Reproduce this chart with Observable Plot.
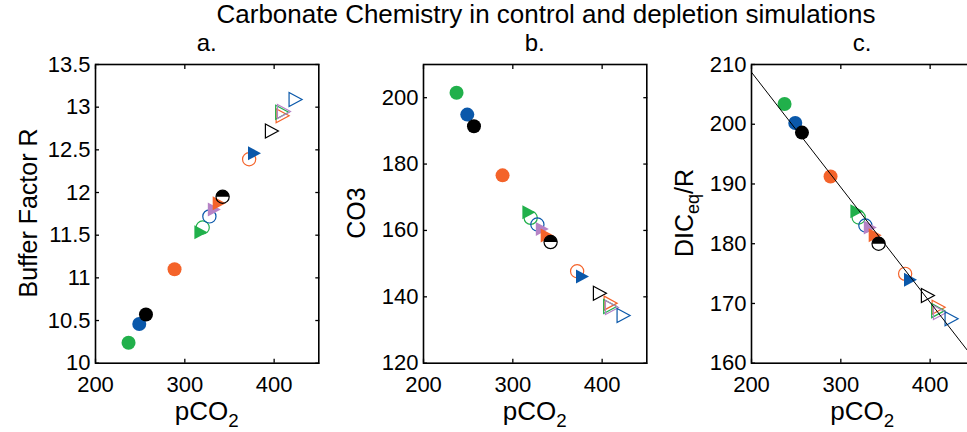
<!DOCTYPE html>
<html><head><meta charset="utf-8">
<script src="https://cdn.jsdelivr.net/npm/d3@7"></script>
<script src="https://cdn.jsdelivr.net/npm/@observablehq/plot@0.6"></script>
<style>
html, body {margin:0; padding:0; overflow:hidden; background:#fff;}
#chart {position:relative; width:967px; height:432px; overflow:hidden; font-family:'Liberation Sans', Arial, Helvetica, sans-serif; color:#000;}
#chart .lbl {position:absolute; white-space:nowrap;}
#chart .panel {position:absolute; top:0;}
.sub {font-size:0.72em; position:relative; top:0.35em;}
</style></head><body><div id="chart"></div>
<script>
// ---- data ----
const experiment = ["g","b","k","o", "g","b","o", "g","p","o","b", "k", "k","o","g","p","b"];
const marker = ["filled circle","filled circle","filled circle","filled circle",
  "open circle","open circle","open circle",
  "filled triangle","filled triangle","filled triangle","filled triangle",
  "half circle",
  "open triangle","open triangle","open triangle","open triangle","open triangle"];
const pco2    = [237, 249, 256.5, 288.5, 320, 327.5, 372, 318, 333, 338.5, 378, 342.3, 397.5, 409.5, 409, 411, 424];
const bufferR = [10.24, 10.46, 10.57, 11.10, 11.59, 11.72, 12.39, 11.535, 11.80, 11.875, 12.46, 11.95, 12.72, 12.90, 12.94, 12.95, 13.09];
const co3     = [201.5, 194.9, 191.4, 176.6, 163.8, 161.8, 147.7, 165.5, 160.4, 158.5, 146.1, 156.5, 141.1, 138.1, 137.1, 136.8, 134.4];
const dicEqR  = [203.4, 200.2, 198.6, 191.25, 184.4, 183.05, 174.96, 185.44, 182.7, 181.4, 173.96, 180.0, 171.33, 169.37, 168.8, 168.5, 167.43];
const fitX = [200, 450];
const fitY = [208.7, 160.55];
const xTicks  = [200, 300, 400];
const yTicksA = [10, 10.5, 11, 11.5, 12, 12.5, 13, 13.5];
const yTicksB = [120, 140, 160, 180, 200];
const yTicksC = [160, 170, 180, 190, 200, 210];
const title = "Carbonate Chemistry in control and depletion simulations";
const panelLetters = ["a.", "b.", "c."];

// ---- styling ----
const palette = {g:"#21b04b", b:"#0a58aa", k:"#000000", o:"#f4632a", p:"#b683c6"};
const FONT = "'Liberation Sans', Arial, Helvetica, sans-serif";
const rows = pco2.map((x, i) => ({exp: experiment[i], marker: marker[i], pco2: x, R: bufferR[i], co3: co3[i], dic: dicEqR[i]}));
const fitRows = fitX.map((x, i) => ({x, y: fitY[i]}));

const triRight = {draw(ctx, size) {
  const r = Math.sqrt(size / Math.PI);
  ctx.moveTo(-0.93 * r, -r); ctx.lineTo(0.93 * r, 0); ctx.lineTo(-0.93 * r, r); ctx.closePath();
}};
const halfTop = {draw(ctx, size) {
  const r = Math.sqrt(size / Math.PI);
  ctx.moveTo(-r, 0); ctx.arc(0, 0, r, Math.PI, 2 * Math.PI); ctx.closePath();
}};

function markerMarks(yField) {
  const out = [];
  for (const row of rows) {
    const c = palette[row.exp];
    const base = {x: "pco2", y: yField};
    switch (row.marker) {
      case "filled circle": out.push(Plot.dot([row], {...base, r: 7, fill: c, stroke: "none"})); break;
      case "open circle": out.push(Plot.dot([row], {...base, r: 6.6, fill: "none", stroke: c, strokeWidth: 1.2})); break;
      case "filled triangle": out.push(Plot.dot([row], {...base, r: 7, symbol: triRight, fill: c, stroke: "none"})); break;
      case "open triangle": out.push(Plot.dot([row], {...base, r: 7, symbol: triRight, fill: "none", stroke: c, strokeWidth: 1.2})); break;
      case "half circle":
        out.push(Plot.dot([row], {...base, r: 6.6, symbol: halfTop, fill: c, stroke: "none"}));
        out.push(Plot.dot([row], {...base, r: 6.6, fill: "none", stroke: c, strokeWidth: 1.2}));
        break;
    }
  }
  return out;
}

function panel(yField, yDomain, yTicks, extra = []) {
  return Plot.plot({
    width: 330, height: 432,
    marginLeft: 95, marginRight: 11.7, marginTop: 64, marginBottom: 69.3,
    x: {domain: [200, 450], label: null, axis: null},
    y: {domain: yDomain, label: null, axis: null},
    style: {fontFamily: FONT, fontSize: "22px", color: "black", background: "transparent", overflow: "visible"},
    marks: [
      Plot.axisX({ticks: xTicks, anchor: "bottom", tickSize: 0, tickPadding: 13, label: null, tickFormat: d => String(d)}),
      Plot.axisX({ticks: xTicks, anchor: "bottom", tickSize: -4, tickFormat: () => "", label: null, strokeWidth: 1.3}),
      Plot.axisX({ticks: xTicks, anchor: "top", tickSize: -4, tickFormat: () => "", label: null, strokeWidth: 1.3}),
      Plot.axisY({ticks: yTicks, anchor: "left", tickSize: 0, tickPadding: 5, label: null, tickFormat: d => String(d)}),
      Plot.axisY({ticks: yTicks, anchor: "left", tickSize: -4, tickFormat: () => "", label: null, strokeWidth: 1.3}),
      Plot.axisY({ticks: yTicks, anchor: "right", tickSize: -4, tickFormat: () => "", label: null, strokeWidth: 1.3}),
      ...markerMarks(yField),
      ...extra,
      Plot.frame({stroke: "black", strokeWidth: 1.6})
    ]
  });
}

const chart = document.getElementById("chart");
const lefts = [0, 328, 655.5];
const plots = [
  panel("R", [10, 13.5], yTicksA),
  panel("co3", [120, 210], yTicksB),
  panel("dic", [160, 210], yTicksC, [Plot.line(fitRows, {x: "x", y: "y", stroke: "black", strokeWidth: 1})])
];
plots.forEach((p, i) => {
  p.classList.add("panel");
  p.style.left = lefts[i] + "px";
  chart.appendChild(p);
});

function addText(html, x, y, size, rotate = false) {
  const d = document.createElement("div");
  d.className = "lbl";
  d.innerHTML = html;
  d.style.fontSize = size + "px";
  d.style.lineHeight = size + "px";
  d.style.left = x + "px";
  d.style.top = y + "px";
  d.style.transformOrigin = "0 0";
  d.style.transform = rotate
    ? `rotate(-90deg) translate(-50%, ${-0.8465 * size}px)`
    : `translate(-50%, ${-0.8465 * size}px)`;
  chart.appendChild(d);
}

const frameCenters = lefts.map(l => l + 95 + 223.3 / 2);
addText(title, 546, 23.3, 26);
panelLetters.forEach((t, i) => addText(t, frameCenters[i], 51, 24));
frameCenters.forEach(cx => addText('pCO<span class="sub">2</span>', cx, 420, 26));
addText("Buffer Factor R", 37, 213.3, 25, true);
addText("CO3", 365, 213.3, 25, true);
addText('DIC<span class="sub">eq</span>/R', 692.5, 213.3, 25, true);
</script></body></html>
